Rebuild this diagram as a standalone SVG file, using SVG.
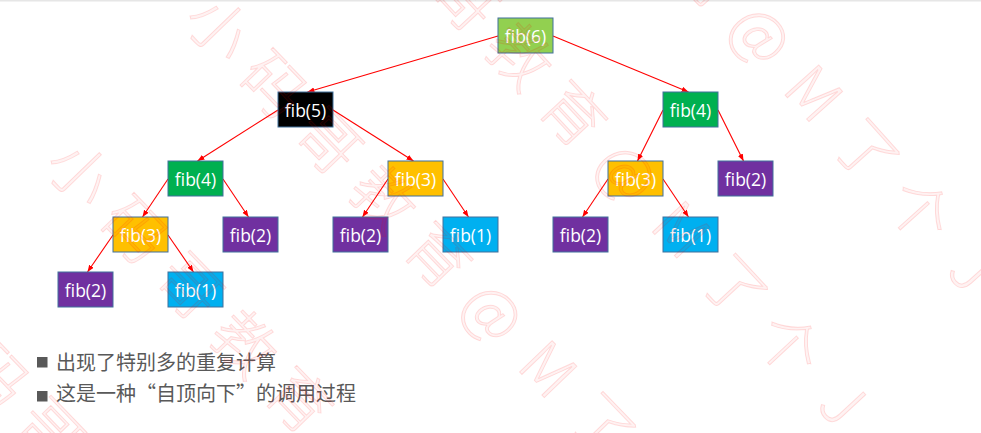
<svg xmlns="http://www.w3.org/2000/svg" width="981" height="433" viewBox="0 0 981 433">
<style>
.node rect{stroke:#41719C;stroke-width:1}
.node text{font-family:"Open Sans","Liberation Sans",sans-serif;font-size:17.5px;fill:#ffffff;text-anchor:middle}
.edge{stroke:#FF0000;stroke-width:1.1;fill:none;marker-end:url(#arr)}
.bullet{font-family:"Noto Sans CJK SC","Noto Sans",sans-serif;font-size:20px;fill:#595959}
.wm{font-family:"Noto Sans CJK SC",sans-serif;font-size:62px;font-weight:300;fill:#FF0000;fill-opacity:0.05;stroke:#FF0000;stroke-opacity:0.13;stroke-width:1;text-anchor:middle;dominant-baseline:central}
</style>
<defs>
<marker id="arr" markerUnits="userSpaceOnUse" markerWidth="8" markerHeight="6" refX="7" refY="2.75" orient="auto">
<path d="M0,0 L7,2.75 L0,5.5 z" fill="#FF0000"/>
</marker>
</defs>
<rect x="0" y="0" width="981" height="433" fill="#ffffff"/>
<rect x="0" y="0" width="981" height="1.5" fill="#e6e6e6"/>

<g id="connectors">
<line class="edge" x1="498" y1="36" x2="307.5" y2="92"/>
<line class="edge" x1="553" y1="36" x2="688.5" y2="92"/>
<line class="edge" x1="278" y1="110" x2="197.5" y2="161"/>
<line class="edge" x1="333" y1="110" x2="413.5" y2="161"/>
<line class="edge" x1="663" y1="110" x2="637.5" y2="161"/>
<line class="edge" x1="718" y1="110" x2="743.5" y2="161"/>
<line class="edge" x1="168" y1="179" x2="142.5" y2="217"/>
<line class="edge" x1="223" y1="179" x2="248.5" y2="217"/>
<line class="edge" x1="388" y1="179" x2="362.5" y2="217"/>
<line class="edge" x1="443" y1="179" x2="468.5" y2="217"/>
<line class="edge" x1="608" y1="179" x2="582.5" y2="217"/>
<line class="edge" x1="663" y1="179" x2="688.5" y2="217"/>
<line class="edge" x1="113" y1="235" x2="87.5" y2="272"/>
<line class="edge" x1="168" y1="235" x2="193.5" y2="272"/>
</g>

<g id="n6" class="node"><rect x="498" y="18" width="55" height="35" fill="#92D050"/><text x="525.5" y="42.5">fib(6)</text></g>
<g id="n5" class="node"><rect x="278" y="92" width="55" height="35" fill="#000000"/><text x="305.5" y="116.5">fib(5)</text></g>
<g id="n4r" class="node"><rect x="663" y="92" width="55" height="35" fill="#00B050"/><text x="690.5" y="116.5">fib(4)</text></g>
<g id="n4l" class="node"><rect x="168" y="161" width="55" height="35" fill="#00B050"/><text x="195.5" y="185.5">fib(4)</text></g>
<g id="n3m" class="node"><rect x="388" y="161" width="55" height="35" fill="#FFC000"/><text x="415.5" y="185.5">fib(3)</text></g>
<g id="n3r" class="node"><rect x="608" y="161" width="55" height="35" fill="#FFC000"/><text x="635.5" y="185.5">fib(3)</text></g>
<g id="n2r1" class="node"><rect x="718" y="161" width="55" height="35" fill="#7030A0"/><text x="745.5" y="185.5">fib(2)</text></g>
<g id="n3l" class="node"><rect x="113" y="217" width="55" height="35" fill="#FFC000"/><text x="140.5" y="241.5">fib(3)</text></g>
<g id="n2l1" class="node"><rect x="223" y="217" width="55" height="35" fill="#7030A0"/><text x="250.5" y="241.5">fib(2)</text></g>
<g id="n2m" class="node"><rect x="333" y="217" width="55" height="35" fill="#7030A0"/><text x="360.5" y="241.5">fib(2)</text></g>
<g id="n1m" class="node"><rect x="443" y="217" width="55" height="35" fill="#00B0F0"/><text x="470.5" y="241.5">fib(1)</text></g>
<g id="n2r2" class="node"><rect x="553" y="217" width="55" height="35" fill="#7030A0"/><text x="580.5" y="241.5">fib(2)</text></g>
<g id="n1r" class="node"><rect x="663" y="217" width="55" height="35" fill="#00B0F0"/><text x="690.5" y="241.5">fib(1)</text></g>
<g id="n2l2" class="node"><rect x="58" y="272" width="55" height="35" fill="#7030A0"/><text x="85.5" y="296.5">fib(2)</text></g>
<g id="n1l" class="node"><rect x="168" y="272" width="55" height="35" fill="#00B0F0"/><text x="195.5" y="296.5">fib(1)</text></g>

<g id="bullets">
<rect x="37" y="357" width="10.5" height="10.5" fill="#595959"/>
<text class="bullet" x="56" y="370">出现了特别多的重复计算</text>
<rect x="37" y="391" width="10.5" height="10.5" fill="#595959"/>
<text class="bullet" x="56" y="401">这是一种“自顶向下”的调用过程</text>
</g>

<g id="watermark">
<text class="wm" transform="translate(-56,315) rotate(46)" x="0 79 158 237 316 395 474 553 632 711">小码哥教育@M了个J</text>
<text class="wm" transform="translate(83,170) rotate(46)" x="0 79 158 237 316 395 474 553 632 711">小码哥教育@M了个J</text>
<text class="wm" transform="translate(222,25) rotate(46)" x="0 79 158 237 316 395 474 553 632 711">小码哥教育@M了个J</text>
<text class="wm" transform="translate(361,-120) rotate(47)" x="0 79 158 237 316 395 474 553 632 711">小码哥教育@M了个J</text>
<text class="wm" transform="translate(500,-262) rotate(48)" x="0 79 158 237 316 395 474 553 632 711">小码哥教育@M了个J</text>
</g>
</svg>
